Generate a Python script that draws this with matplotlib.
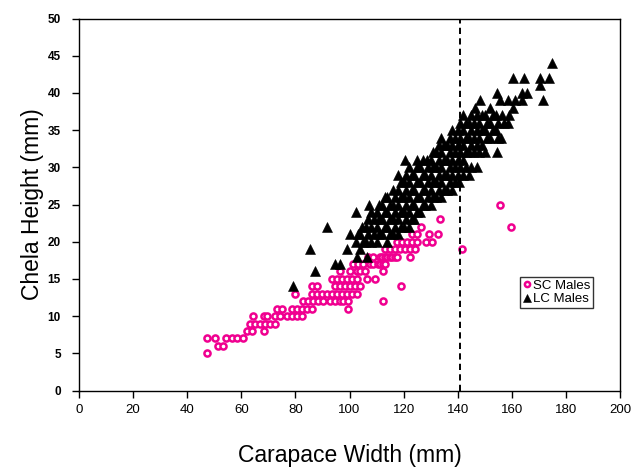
import matplotlib
matplotlib.use("Agg")
import matplotlib.pyplot as plt

plt.rcParams['font.family'] = ['Liberation Sans', 'DejaVu Sans']

# ---- data ----
sc_x = [47.3, 47.3, 50.3, 51.4, 53.2, 54.3, 56.6, 58.4, 60.6,
        62, 64, 68.4,
        63.2, 65, 66.9, 68.8, 70.6, 72.5,
        64.3, 68.4, 69.5, 72.5, 74.3, 76.9, 78.7, 80.6, 82.4,
        73.2, 75, 78.7, 80.6, 82.4, 84.3, 86.1,
        82.8, 84.7, 86.5, 88.4, 90.2, 92.8, 94.6, 96.5, 97.6, 99.4,
        79.9, 86.1, 88, 89.8, 91.7, 93.5, 95.4, 97.2, 99.1, 100.9, 102.8,
        86.1, 88, 94.6, 96.5, 98.3, 100.2, 102, 103.9,
        93.5, 95.4, 97.2, 99.1, 100.9, 102.8, 106.5, 109.4,
        96.5, 100.2, 102.8, 103.9, 105.7, 112.4,
        101.3, 103.1, 105, 107.6, 108.7, 110.5, 111.3, 112.4, 113,
        106.8, 108.7, 111.3, 112, 113.1, 113.9, 115, 115.7, 116.8, 117.6, 122.4,
        113, 115, 116.8, 118.7, 120.5, 122.4, 124.2,
        117.6, 119.4, 121.3, 123.1, 125, 128.3, 130.5,
        123.1, 125, 129.4, 132.7,
        126.4, 133.5,
        99.4, 112.4, 119, 141.6, 155.6, 159.7]
sc_y = [7, 5, 7, 6, 6, 7, 7, 7, 7,
        8, 8, 8,
        9, 9, 9, 9, 9, 9,
        10, 10, 10, 10, 10, 10, 10, 10, 10,
        11, 11, 11, 11, 11, 11, 11,
        12, 12, 12, 12, 12, 12, 12, 12, 12, 12,
        13, 13, 13, 13, 13, 13, 13, 13, 13, 13, 13,
        14, 14, 14, 14, 14, 14, 14, 14,
        15, 15, 15, 15, 15, 15, 15, 15,
        16, 16, 16, 16, 16, 16,
        17, 17, 17, 17, 17, 17, 17, 17, 17,
        18, 18, 18, 18, 18, 18, 18, 18, 18, 18, 18,
        19, 19, 19, 19, 19, 19, 19,
        20, 20, 20, 20, 20, 20, 20,
        21, 21, 21, 21,
        22, 23,
        11, 12, 14, 19, 25, 22]

lc_x = [79, 85.4, 87.2, 91.6, 94.6, 96.5, 99, 100.2,
        102.8, 102.4, 103, 102.4,
        104, 105, 104, 104.5,
        106.5, 106, 107, 106, 107,
        108, 109, 108, 109, 108, 107.2,
        110, 111, 110, 111, 110, 111,
        112, 113, 112, 113, 112, 113,
        114, 115, 114, 115, 114, 115, 114,
        116, 117, 116, 117, 116, 117, 116,
        118, 119, 118, 119, 118, 119, 118, 119, 118,
        120, 121, 120, 121, 120, 121, 120, 121, 120.5,
        122, 123, 122, 123, 122, 123, 122, 123, 122,
        124, 125, 124, 125, 124, 125, 124, 125, 125,
        126, 127, 126, 127, 126, 127, 126, 127,
        128, 129, 128, 129, 128, 129, 128.6,
        130, 131, 130, 131, 130, 131, 130, 131,
        132, 133, 132, 133, 132, 133, 132, 133,
        134, 135, 134, 135, 134, 135, 134, 135, 134,
        136, 137, 136, 137, 136, 137, 136, 137,
        138, 139, 138, 139, 138, 139, 138, 139, 138,
        140.5, 140, 141, 140, 141, 140, 141, 140, 141,
        142, 143, 142, 143, 142, 143, 142, 143, 142,
        144, 145, 144, 145, 144, 145, 144, 145,
        147, 146, 147, 146, 147, 146, 147, 146.4,
        148, 149, 148, 149, 148, 149, 150, 148.2,
        150, 151, 150, 151, 152,
        152, 153, 152, 153,
        154.5, 155, 154, 155, 154, 155.6, 154.5,
        156, 157, 156.4,
        158.6, 159, 158.6,
        160.4, 160.4, 161,
        163.8, 163.8, 165.6, 164.5,
        170.4, 170.4, 171.5, 173.7, 174.9]
lc_y = [14, 19, 16, 22, 17, 17, 19, 21,
        18, 20, 21, 24,
        19, 20, 21, 22,
        18, 20, 21, 22, 23,
        20, 21, 22, 23, 24, 25,
        20, 21, 22, 23, 24, 25,
        21, 22, 23, 24, 25, 26,
        20, 21, 22, 23, 24, 25, 26,
        21, 22, 23, 24, 25, 26, 27,
        21, 22, 23, 24, 25, 26, 27, 28, 29,
        22, 23, 24, 25, 26, 27, 28, 29, 31,
        22, 23, 24, 25, 26, 27, 28, 29, 30,
        23, 24, 25, 26, 27, 28, 29, 30, 31,
        24, 25, 26, 27, 28, 29, 30, 31,
        25, 26, 27, 28, 29, 30, 31,
        25, 26, 27, 28, 29, 30, 31, 32,
        26, 27, 28, 29, 30, 31, 32, 33,
        26, 27, 28, 29, 30, 31, 32, 33, 34,
        27, 28, 29, 30, 31, 32, 33, 34,
        27, 28, 29, 30, 31, 32, 33, 34, 35,
        28, 29, 30, 31, 32, 33, 34, 35, 36,
        29, 30, 31, 32, 33, 34, 35, 36, 37,
        29, 30, 32, 33, 34, 35, 36, 37,
        30, 32, 33, 34, 35, 36, 37, 38,
        32, 33, 34, 35, 36, 37, 37, 39,
        32, 34, 35, 36, 38,
        34, 35, 36, 37,
        32, 34, 35, 36, 37, 39, 40,
        34, 36, 37,
        36, 37, 39,
        38, 42, 39,
        39, 40, 40, 42,
        41, 42, 39, 42, 44]

cutoff_x = 140.8
x_ticks = [0, 20, 40, 60, 80, 100, 120, 140, 160, 180, 200]
y_ticks = [0, 5, 10, 15, 20, 25, 30, 35, 40, 45, 50]

fig = plt.figure(figsize=(6.34, 4.69), dpi=100)
ax = fig.add_axes([79/634, 1 - 390.5/469, (620 - 79)/634, (390.5 - 18.5)/469])

pink = '#F00090'
ax.plot(sc_x, sc_y, linestyle='none', marker='o', markersize=4.4,
        markerfacecolor='white', markeredgecolor=pink, markeredgewidth=1.8,
        label='SC Males', zorder=3)
ax.plot(lc_x, lc_y, linestyle='none', marker='^', markersize=7,
        markerfacecolor='black', markeredgecolor='black', markeredgewidth=0.4,
        label='LC Males', zorder=4)
ax.axvline(cutoff_x, color='black', linestyle=(0, (3.2, 2.2)), linewidth=1.4, zorder=5)

ax.set_xlim(0, 200)
ax.set_ylim(0, 50)
ax.set_xticks(x_ticks)
ax.set_yticks(y_ticks)
ax.tick_params(axis='x', direction='out', length=5, width=1, labelsize=9.5, pad=5)
ax.tick_params(axis='y', direction='out', length=5, width=1, labelsize=8.5, pad=8)
for lab in ax.get_yticklabels():
    lab.set_fontweight('bold')
for s in ax.spines.values():
    s.set_linewidth(1.0)
    s.set_color('black')

ax.set_xlabel('Carapace Width (mm)', fontsize=16.5)
ax.xaxis.set_label_coords(0.5, -0.145)
ax.set_ylabel('Chela Height (mm)', fontsize=16.5)
ax.yaxis.set_label_coords(-0.064, 0.5)

leg = ax.legend(loc='upper left', bbox_to_anchor=((520 - 79)/541, (390.5 - 277)/372),
                fontsize=9.5, frameon=True, fancybox=False, edgecolor='black',
                borderpad=0.2, labelspacing=0.1, handlelength=0.6,
                handletextpad=0.2, borderaxespad=0, markerscale=0.85)
leg.get_frame().set_linewidth(1.0)

fig.savefig('out.png', dpi=100)
